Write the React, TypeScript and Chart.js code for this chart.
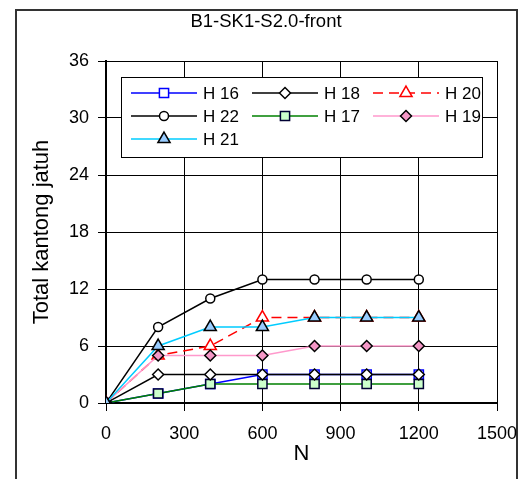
import React, { useEffect, useRef } from "react";
import { Chart, registerables } from "chart.js";

Chart.register(...registerables);

const CHART_TITLE = "B1-SK1-S2.0-front";
const X_TITLE = "N";
const Y_TITLE = "Total kantong jatuh";
const N_VALUES = [0, 200, 400, 600, 800, 1000, 1200];
const H16 = [0, 1, 2, 3, 3, 3, 3];
const H18 = [0, 3, 3, 3, 3, 3, 3];
const H20 = [0, 5, 6, 9, 9, 9, 9];
const H22 = [0, 8, 11, 13, 13, 13, 13];
const H17 = [0, 1, 2, 2, 2, 2, 2];
const H19 = [0, 5, 5, 5, 6, 6, 6];
const H21 = [0, 6, 8, 8, 9, 9, 9];
const X_MIN = 0, X_MAX = 1500, X_STEP = 300;
const Y_MIN = 0, Y_MAX = 36, Y_STEP = 6;

const FONT = "'Liberation Sans', Arial, sans-serif";

type Series = {
  label: string;
  values: number[];
  line: string;
  fill: string;
  border: string;
  style: string;
  radius: number;
  dash?: number[];
  order: number;
};

const SERIES: Series[] = [
  { label: "H 16", values: H16, line: "#0000FF", fill: "#FFFFFF", border: "#0000FF", style: "rect", radius: 6.5, order: 7 },
  { label: "H 18", values: H18, line: "#000000", fill: "#FFFFFF", border: "#000000", style: "rectRot", radius: 5.5, order: 4 },
  { label: "H 20", values: H20, line: "#FF0000", fill: "#FFFFFF", border: "#FF0000", style: "triangle", radius: 7, dash: [10, 6], order: 6 },
  { label: "H 22", values: H22, line: "#000000", fill: "#FFFFFF", border: "#000000", style: "circle", radius: 4.5, order: 3 },
  { label: "H 17", values: H17, line: "#008000", fill: "#CCFFCC", border: "#000033", style: "rect", radius: 6.5, order: 5 },
  { label: "H 19", values: H19, line: "#FF99CC", fill: "#F497C6", border: "#000000", style: "rectRot", radius: 5.5, order: 2 },
  { label: "H 21", values: H21, line: "#00CCFF", fill: "#99CCFF", border: "#000000", style: "triangle", radius: 7, order: 1 },
];

function drawMarker(ctx: CanvasRenderingContext2D, s: Series, x: number, y: number) {
  const r = s.radius;
  ctx.save();
  ctx.setLineDash([]);
  ctx.fillStyle = s.fill;
  ctx.strokeStyle = s.border;
  ctx.lineWidth = 1.5;
  ctx.beginPath();
  if (s.style === "rect") {
    const h = r * Math.SQRT1_2;
    ctx.rect(x - h, y - h, 2 * h, 2 * h);
  } else if (s.style === "rectRot") {
    ctx.moveTo(x - r, y);
    ctx.lineTo(x, y - r);
    ctx.lineTo(x + r, y);
    ctx.lineTo(x, y + r);
    ctx.closePath();
  } else if (s.style === "triangle") {
    ctx.moveTo(x, y - r);
    ctx.lineTo(x + Math.sin(Math.PI * 2 / 3) * r, y - Math.cos(Math.PI * 2 / 3) * r);
    ctx.lineTo(x + Math.sin(Math.PI * 4 / 3) * r, y - Math.cos(Math.PI * 4 / 3) * r);
    ctx.closePath();
  } else {
    ctx.arc(x, y, r, 0, Math.PI * 2);
  }
  ctx.fill();
  ctx.stroke();
  ctx.restore();
}

const framePlugin = {
  id: "frame",
  beforeDraw(chart: any) {
    const ctx = chart.ctx as CanvasRenderingContext2D;
    ctx.save();
    ctx.strokeStyle = "#333333";
    ctx.lineWidth = 2;
    ctx.strokeRect(16, 10, 501, 490);
    ctx.fillStyle = "#000000";
    ctx.font = "18.5px " + FONT;
    ctx.textAlign = "center";
    ctx.textBaseline = "middle";
    ctx.fillText(CHART_TITLE, 266, 22);
    ctx.restore();
  },
};

const legendPlugin = {
  id: "boxLegend",
  afterDatasetsDraw(chart: any) {
    const ctx = chart.ctx as CanvasRenderingContext2D;
    ctx.save();
    ctx.fillStyle = "#FFFFFF";
    ctx.fillRect(121, 77, 361, 80);
    ctx.strokeStyle = "#000000";
    ctx.lineWidth = 1;
    ctx.strokeRect(121.5, 77.5, 361, 80);
    SERIES.forEach((s, i) => {
      const col = i % 3;
      const row = Math.floor(i / 3);
      const x0 = 131 + col * 121;
      const y = 93 + row * 23;
      ctx.save();
      ctx.strokeStyle = s.line;
      ctx.lineWidth = 1.5;
      ctx.setLineDash(s.dash || []);
      ctx.beginPath();
      ctx.moveTo(x0, y);
      ctx.lineTo(x0 + 66, y);
      ctx.stroke();
      ctx.restore();
      drawMarker(ctx, s, x0 + 33, y);
      ctx.fillStyle = "#000000";
      ctx.font = "17px " + FONT;
      ctx.textAlign = "left";
      ctx.textBaseline = "middle";
      ctx.fillText(s.label, x0 + 72, y + 1);
    });
    ctx.restore();
  },
};

export default function App() {
  const ref = useRef<HTMLCanvasElement | null>(null);
  useEffect(() => {
    if (!ref.current) return;
    const chart = new Chart(ref.current, {
      type: "line",
      data: {
        datasets: SERIES.map((s) => ({
          label: s.label,
          data: s.values.map((v, i) => ({ x: N_VALUES[i], y: v })),
          borderColor: s.line,
          backgroundColor: s.fill,
          borderWidth: 1.5,
          borderDash: s.dash || [],
          pointStyle: s.style as any,
          pointRadius: s.radius,
          pointBackgroundColor: s.fill,
          pointBorderColor: s.border,
          pointBorderWidth: 1.5,
          tension: 0,
          fill: false,
          order: s.order,
        })),
      },
      options: {
        animation: false,
        responsive: false,
        maintainAspectRatio: false,
        layout: { padding: { left: 0, right: 24, top: 61, bottom: 0 } },
        plugins: { legend: { display: false }, tooltip: { enabled: false }, title: { display: false } },
        scales: {
          x: {
            type: "linear",
            min: X_MIN,
            max: X_MAX,
            ticks: { stepSize: X_STEP, color: "#000", font: { family: FONT, size: 18 }, padding: 12, maxRotation: 0, callback: (v: any) => String(v) },
            grid: { color: "#000", lineWidth: 1, tickLength: 8, tickColor: "#000" },
            border: { color: "#000", width: 2 },
            title: { display: true, text: X_TITLE, color: "#000", font: { family: FONT, size: 22 }, padding: { top: 0, bottom: 12 } },
            afterFit(scale: any) {
              scale.height = 76;
              scale.paddingLeft = 0;
              scale.paddingRight = 0;
            },
          },
          y: {
            type: "linear",
            min: Y_MIN,
            max: Y_MAX,
            ticks: { stepSize: Y_STEP, color: "#000", font: { family: FONT, size: 18 }, padding: 9, callback: (v: any) => String(v) },
            grid: { color: "#000", lineWidth: 1, tickLength: 8, tickColor: "#000" },
            border: { color: "#000", width: 2 },
            title: { display: true, text: Y_TITLE, color: "#000", font: { family: FONT, size: 22 }, padding: { top: 29, bottom: 0 } },
            afterFit(scale: any) {
              scale.width = 106;
              scale.paddingTop = 0;
              scale.paddingBottom = 0;
            },
          },
        },
      },
      plugins: [framePlugin, legendPlugin],
    });
    return () => chart.destroy();
  }, []);
  return (
    <div style={{ position: "absolute", left: 0, top: 0, width: 521, height: 479, background: "#fff" }}>
      <canvas ref={ref} width={521} height={479} style={{ display: "block", width: 521, height: 479 }} />
    </div>
  );
}
